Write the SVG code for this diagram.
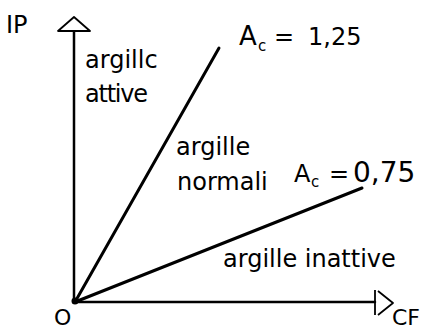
<svg xmlns="http://www.w3.org/2000/svg" width="424" height="331" viewBox="0 0 424 331">
<style>
text{font-family:"DejaVu Sans","Liberation Sans",sans-serif;fill:#000}
.t{font-size:24px}
.ax{stroke:#000;stroke-width:2.5;fill:none;stroke-linecap:round}
.ln{stroke:#000;stroke-width:3;fill:none;stroke-linecap:round}
.hd{stroke:#000;stroke-width:1.8;fill:none;stroke-linejoin:round}
</style>
<rect width="424" height="331" fill="#fff"/>
<g id="connectors">
<line class="ax" x1="74" y1="302" x2="74" y2="32"/>
<line class="ax" x1="75" y1="302" x2="375" y2="302"/>
<line class="ln" x1="75" y1="302" x2="219" y2="48"/>
<line class="ln" x1="75" y1="302" x2="362" y2="188"/>
<polygon class="hd" points="74,17 58,31 90,31"/>
<line class="hd" x1="375" y1="290" x2="375" y2="315"/>
<polyline class="hd" points="378,291 393,303 378,315"/>
<circle cx="75" cy="301" r="3.5" fill="#000"/>
</g>
<g id="axis-labels">
<text class="t" x="6" y="33">IP</text>
<text x="54" y="325" font-size="22">O</text>
<text x="392" y="325" font-size="22">CF</text>
</g>
<g id="region-active">
<text class="t" x="85" y="68">argillc</text>
<text class="t" x="85" y="102" textLength="63">attive</text>
</g>
<g id="region-normal">
<text class="t" x="176" y="155">argille</text>
<text class="t" x="177" y="190">normali</text>
</g>
<g id="region-inactive">
<text class="t" x="223" y="267">argille inattive</text>
</g>
<g id="line-125">
<text x="239" y="45" font-size="26">A</text>
<text x="258" y="51" font-size="15">c</text>
<text x="274" y="45" font-size="24">=</text>
<text x="308" y="45" font-size="24">1,25</text>
</g>
<g id="line-075">
<text x="294" y="182" font-size="24">A</text>
<text x="311" y="187" font-size="15">c</text>
<text x="329" y="182" font-size="24">=</text>
<text x="353" y="182" font-size="28">0,75</text>
</g>
</svg>
